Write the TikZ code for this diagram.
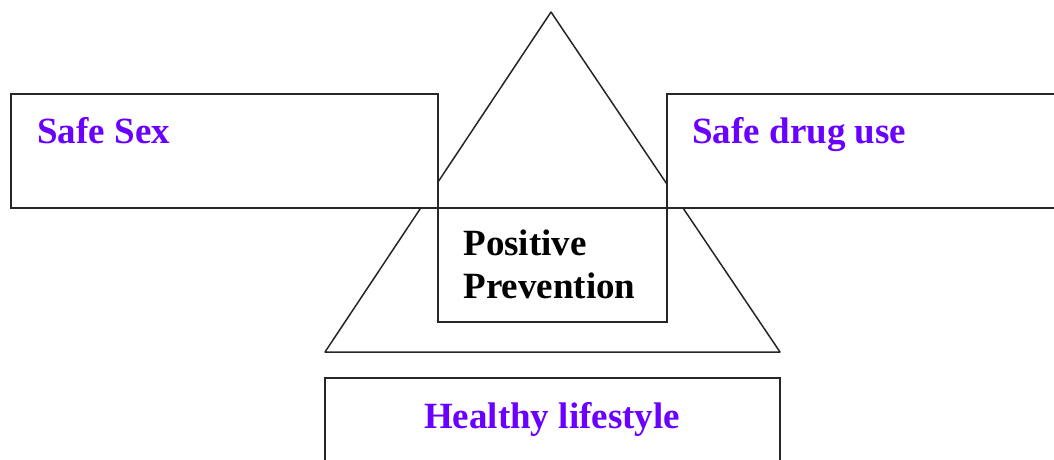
\documentclass[tikz,border=0pt]{standalone}
\usepackage{fontspec}
\setmainfont{Liberation Serif}
\definecolor{violetblue}{HTML}{6A00FF}

\tikzset{
    box/.style={draw=black!85, line width=0.75pt, fill=white},
    tag/.style={font=\fontsize{18.5}{21.5}\selectfont\bfseries, inner sep=0pt},
}

\begin{document}
\begin{tikzpicture}[x=0.5pt, y=-0.5pt]

    \useasboundingbox (0,0) rectangle (1054,460);
    \clip (0,0) rectangle (1054,460);

    % Triangle behind everything
        \coordinate (apex) at (551,12);
        \coordinate (baseL) at (325,352);
        \coordinate (baseR) at (780,352);
        \draw [box, fill=none, line join=round] (apex) -- (baseL) -- (baseR) -- cycle;

    % Side boxes
        %% safe sex
        \draw [box] (11,94) rectangle (438,208);
        \node [tag, violetblue, anchor=base west] (sex) at (37,143) {Safe Sex};

        %% safe drug use
        \draw [box] (667,94) rectangle (1080,208);
        \node [tag, violetblue, anchor=base west] (drug) at (692,143) {Safe drug use};

    % Centre box
        \draw [box] (438,208) rectangle (667,322);
        \node [tag, anchor=base west] (pos) at (463,255) {Positive};
        \node [tag, anchor=base west] (prev) at (463,298) {Prevention};

    % Bottom box
        \draw [box] (325,378) rectangle (780,490);
        \node [tag, violetblue, anchor=base] (life) at (552,428) {Healthy lifestyle};

\end{tikzpicture}
\end{document}
